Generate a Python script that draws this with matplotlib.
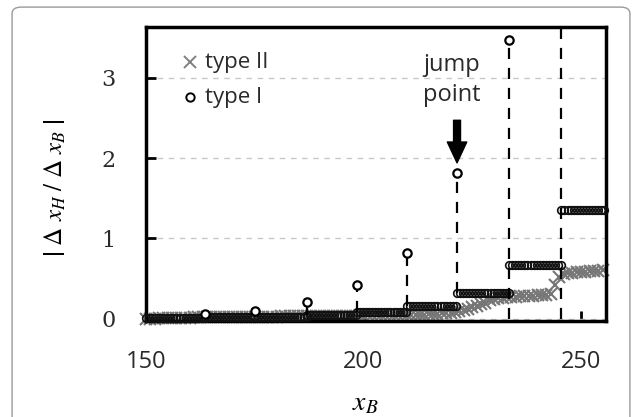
import numpy as np
import matplotlib
matplotlib.use('Agg')
import matplotlib.pyplot as plt
from matplotlib.patches import FancyBboxPatch

plt.rcParams['mathtext.fontset'] = 'stix'

# type I: jump points (spikes) and the constant level between jumps
spike_x = [163.5, 175.0, 187.0, 198.5, 210.0, 221.5, 233.5]
spike_y = [0.06, 0.09, 0.21, 0.42, 0.82, 1.81, 3.47]

step_edges = [150.0, 163.5, 175.0, 187.0, 198.5, 210.0, 221.5, 233.5, 245.5, 255.3]
step_levels = [0.01, 0.015, 0.025, 0.04, 0.08, 0.155, 0.325, 0.67, 1.355]

# dashed connectors at the jumps
stem_x = [163.5, 175.0, 187.0, 198.5, 210.0, 221.5, 233.5, 245.5]
stem_top = [0.06, 0.09, 0.21, 0.42, 0.82, 1.81, 3.47, 3.7]
stem_bottom = [0.015, 0.025, 0.04, 0.08, 0.155, 0.325, 0.0, 0.0]

# type II, one value per unit of x_B from 150 to 255
type2_x = np.arange(150, 256)
type2_y = [
    0.0, 0.0, 0.0, 0.005, 0.005, 0.005, 0.01, 0.01, 0.01, 0.01, 0.01, 0.015, 0.015, 0.015,
    0.015, 0.015, 0.015, 0.015, 0.02, 0.02, 0.02, 0.02, 0.02, 0.02, 0.02, 0.025,
    0.025, 0.025, 0.025, 0.025, 0.025, 0.03, 0.03, 0.03, 0.03, 0.03, 0.03, 0.03,
    0.03, 0.03, 0.03, 0.03, 0.035, 0.035, 0.035, 0.035, 0.035, 0.035, 0.035,
    0.035, 0.035, 0.04, 0.04, 0.04, 0.04, 0.045, 0.045, 0.045, 0.05, 0.05, 0.05,
    0.04, 0.045, 0.05, 0.05, 0.055, 0.06, 0.06, 0.065, 0.07, 0.075, 0.08,
    0.10, 0.11, 0.12, 0.14, 0.16, 0.18, 0.20, 0.23,
    0.25, 0.26, 0.26, 0.27, 0.27, 0.27, 0.28, 0.28, 0.28, 0.28, 0.29, 0.29, 0.30,
    0.31, 0.42, 0.52, 0.56, 0.57, 0.57, 0.58, 0.58, 0.58, 0.59, 0.59, 0.59, 0.60,
]

xticks = [150, 200, 250]
yticks = [0, 1, 2, 3]

fig = plt.figure(figsize=(6.35, 4.17), dpi=100)
ax = fig.add_axes([0.230, 0.230, 0.724, 0.705])

# outer rounded frame
frame = FancyBboxPatch((0.019, -0.05), 0.973, 1.033, transform=fig.transFigure,
                       boxstyle='round,pad=0,rounding_size=0.015',
                       facecolor='none', edgecolor='#9a9a9a', linewidth=1.0)
fig.patches.append(frame)

ax.set_xlim(150, 255.7)
ax.set_ylim(-0.03, 3.63)

ax.yaxis.grid(True, color='#c8c8c8', linestyle=(0, (4, 4)), linewidth=1)
ax.set_axisbelow(True)

ax.plot(type2_x, type2_y, linestyle='none', marker='x', markersize=9,
        markeredgewidth=1.5, color='#767676', zorder=2, clip_on=False)

for x0, x1, lev in zip(step_edges[:-1], step_edges[1:], step_levels):
    xs = np.arange(x0, x1, 0.7)
    ax.plot(xs, np.full(len(xs), lev), linestyle='none', marker='o',
            markersize=5.5, markerfacecolor='none', markeredgecolor='#111111',
            markeredgewidth=1.2, zorder=3, clip_on=False)

ax.vlines(stem_x, stem_bottom, stem_top, colors='black', linewidth=1.6,
          linestyles=(0, (5, 4)), zorder=3)
ax.plot(spike_x, spike_y, linestyle='none', marker='o', markersize=6,
        markerfacecolor='white', markeredgecolor='black', markeredgewidth=1.6,
        zorder=4)

ax.annotate('', xy=(221.5, 1.94), xytext=(221.5, 2.47),
            arrowprops=dict(facecolor='black', edgecolor='black', width=5,
                            headwidth=14, headlength=15, shrink=0))
ax.text(220.3, 2.97, 'jump\npoint', ha='center', va='center', fontsize=17,
        family='Open Sans', color='#2a2a2a', linespacing=1.35)

# legend
ax.plot([0.096], [0.881], transform=ax.transAxes, marker='x', markersize=8,
        markeredgewidth=1.4, color='#808080', linestyle='none')
ax.plot([0.096], [0.762], transform=ax.transAxes, marker='o', markersize=6,
        markerfacecolor='white', markeredgecolor='black', markeredgewidth=1.4,
        linestyle='none')
ax.text(0.128, 0.881, 'type II', transform=ax.transAxes, va='center',
        fontsize=16, family='Open Sans', color='#2a2a2a')
ax.text(0.128, 0.762, 'type I', transform=ax.transAxes, va='center',
        fontsize=16, family='Open Sans', color='#2a2a2a')

for side in ['left', 'right', 'top', 'bottom']:
    ax.spines[side].set_linewidth(2.5)
    ax.spines[side].set_color('black')

ax.set_xticks(xticks)
ax.set_yticks(yticks)
ax.tick_params(direction='in', length=7, width=2)
ax.tick_params(axis='x', pad=21, labelsize=17)
ax.tick_params(axis='y', pad=22, labelsize=16)
for lab in ax.get_xticklabels():
    lab.set_family('Open Sans')
    lab.set_color('#2a2a2a')
for lab in ax.get_yticklabels():
    lab.set_family('DejaVu Serif')
    lab.set_color('#2a2a2a')

fig.text(365 / 635, 1 - 402 / 417, r'$x_B$', ha='center', va='center', fontsize=20)
fig.text(55 / 635, 1 - 188 / 417, r'$\left|\ \mathit{\Delta}\ x_H\ /\ \mathit{\Delta}\ x_B\ \right|$',
         rotation=90, ha='center', va='center', fontsize=18)

fig.savefig('out.png', dpi=100)
